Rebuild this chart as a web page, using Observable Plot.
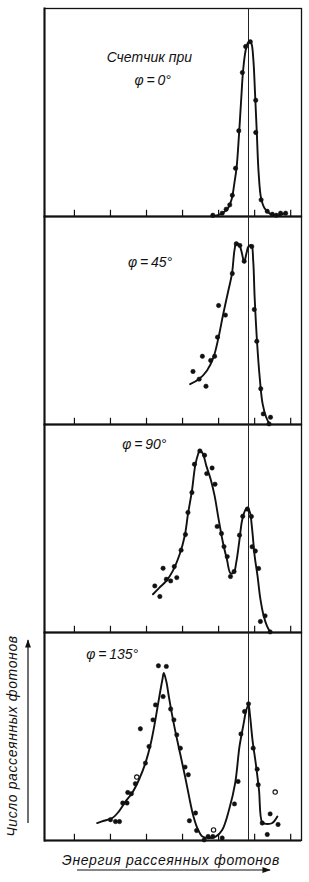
<!DOCTYPE html>
<html><head><meta charset="utf-8">
<script src="https://cdn.jsdelivr.net/npm/d3@7"></script>
<script src="https://cdn.jsdelivr.net/npm/@observablehq/plot@0.6"></script>
<style>
body{margin:0;background:#fff;}
#wrap{position:relative;width:309px;height:882px;font-family:"Liberation Sans",Arial,sans-serif;}
#chart{position:absolute;left:0;top:0;}
#over{position:absolute;left:0;top:0;pointer-events:none;}
</style></head><body>
<div id="wrap"><div id="chart"></div><svg id="over" width="309" height="882"></svg></div>
<script>
// Scattering angle of each panel (degrees)
const panels = ["0", "45", "90", "135"];
const tickValues = [1, 2, 3, 4, 5, 6, 7];
const primaryEnergy = [5.83];

// measured points [energy, count]
const dots0 = [[4.84,0.6],[5.10,1.6],[5.21,3.5],[5.31,5.6],[5.38,10.2],[5.47,23.2],[5.56,41.2],[5.66,69.2],[5.75,81.7],[5.88,84.0],[6.03,55.9],[6.03,40.4],[6.18,8.0],[6.35,2.5],[6.49,1.1],[6.60,0.6],[6.72,1.6],[6.86,1.6]];
const dots45 = [[4.29,25.5],[4.46,21.8],[4.55,32.8],[4.65,18.4],[4.78,30.8],[4.89,32.8],[4.97,42.0],[5.0,57.2],[5.19,52.6],[5.38,72.6],[5.49,86.9],[5.59,86.1],[5.71,78.5],[5.92,85.6],[5.99,55.3],[6.06,40.0],[6.17,17.2],[6.24,5.1],[6.44,3.5],[6.40,0.3]];
const dots90 = [[3.23,22.4],[3.37,17.3],[3.46,30.9],[3.55,25.6],[3.67,24.8],[3.77,31.7],[3.84,26.4],[3.96,39.6],[4.08,47.1],[4.15,57.7],[4.26,67.3],[4.33,80.9],[4.48,87.3],[4.61,85.2],[4.67,76.4],[4.82,79.1],[4.90,71.3],[4.96,51.0],[5.08,47.6],[5.15,41.3],[5.24,36.5],[5.33,26.9],[5.43,29.3],[5.58,46.8],[5.67,55.9],[5.80,59.3],[5.91,55.8],[5.93,41.2],[6.02,39.2],[6.11,30.8],[6.16,5.3],[6.29,8.0],[6.43,0.3]];
const dots135 = [[2.0,10.0],[2.14,9.1],[2.25,9.1],[2.34,18.0],[2.46,18.0],[2.48,23.1],[2.58,22.5],[2.69,27.3],[2.83,53.7],[2.97,37.2],[3.07,45.2],[3.18,58.0],[3.25,65.2],[3.33,84.0],[3.46,69.2],[3.55,83.7],[3.67,63.2],[3.76,58.0],[3.84,50.8],[3.94,44.4],[4.07,35.3],[4.16,31.6],[4.19,9.5],[4.36,13.2],[4.39,4.8],[4.60,0.3],[4.71,1.9],[4.84,1.9],[5.10,1.2],[5.44,17.6],[5.54,28.4],[5.62,51.2],[5.72,62.0],[5.83,65.7],[5.96,44.4],[6.07,34.3],[6.10,26.8],[6.21,8.4],[6.35,2.9],[6.43,12.8],[6.65,7.7]];
const open135 = [[2.73,30.5],[4.86,5.1],[6.57,23.3]];

// smooth curves drawn through the data [energy, count]
const curve0 = [[4.83,0],[5.08,1.4],[5.25,3.8],[5.36,8.2],[5.44,16.3],[5.50,23.6],[5.57,40.4],[5.63,57.2],[5.68,70.2],[5.75,79.8],[5.82,83.7],[5.88,84.1],[5.92,82.7],[5.97,74.0],[6.01,59.6],[6.06,40.4],[6.11,21.2],[6.18,8.7],[6.28,3.8],[6.42,1.4],[6.64,0.5],[6.86,1.9]];
const curve45 = [[4.21,19.4],[4.44,21.6],[4.68,26.0],[4.86,32.4],[5.0,42.0],[5.12,52.4],[5.26,63.6],[5.37,72.4],[5.44,83.7],[5.49,87.2],[5.58,86.1],[5.65,82.1],[5.71,78.0],[5.77,82.1],[5.83,85.6],[5.91,86.2],[5.96,78.8],[6.0,61.2],[6.07,38.8],[6.14,22.7],[6.22,10.0],[6.32,3.5],[6.42,0]];
const curve90 = [[3.18,18.4],[3.36,21.6],[3.55,24.8],[3.73,29.6],[3.92,37.6],[4.06,46.4],[4.15,56.9],[4.26,68.1],[4.35,80.1],[4.43,85.7],[4.48,87.6],[4.57,85.7],[4.66,80.1],[4.78,73.7],[4.89,65.7],[5.0,54.5],[5.12,43.3],[5.23,35.2],[5.33,28.5],[5.42,28.8],[5.49,33.7],[5.57,43.3],[5.65,53.7],[5.73,58.5],[5.80,60.1],[5.87,57.7],[5.93,49.7],[6.0,36.8],[6.08,27.2],[6.16,16.0],[6.25,8.0],[6.34,3.2],[6.44,0]];
const curve135 = [[1.63,8.4],[1.82,9.5],[2.05,10.8],[2.23,13.9],[2.42,18.8],[2.60,22.8],[2.79,29.2],[2.97,37.2],[3.11,46.0],[3.23,56.4],[3.34,67.6],[3.44,77.3],[3.48,80.5],[3.55,76.4],[3.62,69.2],[3.71,60.4],[3.81,51.6],[3.94,41.2],[4.07,30.8],[4.18,21.2],[4.29,12.4],[4.41,6.0],[4.55,1.9],[4.73,1.2],[4.92,1.9],[5.10,5.1],[5.29,14.8],[5.46,27.6],[5.58,45.2],[5.68,54.8],[5.77,62.8],[5.83,65.2],[5.87,60.4],[5.94,48.4],[6.03,37.2],[6.12,24.4],[6.21,8.7],[6.31,8.0],[6.49,8.4],[6.63,11.5]];

const labelText = [["0","Счетчик при",3.08,76.4],["0","φ\u2009=\u20090°",3.17,65.4],["45","φ\u2009=\u200945°",3.1,78.0],["90","φ\u2009=\u200990°",2.94,90.5],["135","φ\u2009=\u2009135°",2.05,89.3]];

const rows = (pairs) => pairs.flatMap(([p, a]) => a.map(([x, y]) => ({panel: p, x, y})));
const curves = rows([["0",curve0],["45",curve45],["90",curve90],["135",curve135]]);
const dots = rows([["0",dots0],["45",dots45],["90",dots90],["135",dots135]]);
const opens = rows([["135",open135]]);
const labels = labelText.map(([panel, text, x, y]) => ({panel, text, x, y}));

const chart = Plot.plot({
  width: 309, height: 846,
  marginLeft: 44, marginRight: 8, marginTop: 6, marginBottom: 5,
  x: {domain: [0.17, 7.3], axis: null},
  y: {domain: [0, 100], axis: null},
  fy: {domain: panels, axis: null, padding: 0},
  style: {background: "white"},
  marks: [
    Plot.frame({stroke: "#111", strokeWidth: 1.3}),
    Plot.frame({anchor: "left", stroke: "#111", strokeWidth: 2}),
    Plot.ruleY([0], {stroke: "#111", strokeWidth: 2}),
    Plot.ruleX(tickValues, {x: d => d, y1: 0, y2: 3, stroke: "#111", strokeWidth: 1.2}),
    Plot.ruleX(primaryEnergy, {x: d => d, stroke: "#222", strokeWidth: 1}),
    Plot.line(curves, {x: "x", y: "y", fy: "panel", z: "panel", curve: "catmull-rom", stroke: "#111", strokeWidth: 1.9}),
    Plot.dot(dots, {x: "x", y: "y", fy: "panel", r: 2.2, fill: "#111", stroke: "#111", strokeWidth: 0.5}),
    Plot.dot(opens, {x: "x", y: "y", fy: "panel", r: 2.2, fill: "white", stroke: "#111", strokeWidth: 1.1}),
    Plot.text(labels, {x: "x", y: "y", fy: "panel", text: "text", fontSize: 14, fontStyle: "italic", fill: "#111", fontFamily: "Liberation Sans, Arial, sans-serif"})
  ]
});
document.getElementById("chart").appendChild(chart);

// axis titles with arrows
const over = d3.select("#over");
over.append("defs").append("marker").attr("id", "ah").attr("viewBox", "0 0 10 10")
  .attr("refX", 9).attr("refY", 5).attr("markerWidth", 7).attr("markerHeight", 7).attr("orient", "auto")
  .append("path").attr("d", "M0,1.5 L10,5 L0,8.5 Z").attr("fill", "#111");
over.append("text").attr("transform", "translate(17,736) rotate(-90)").attr("text-anchor", "middle")
  .attr("font-size", 14).attr("font-style", "italic").attr("letter-spacing", 0.6).attr("fill", "#111")
  .attr("font-family", "Liberation Sans, Arial, sans-serif").text("Число рассеянных фотонов");
over.append("line").attr("x1", 28).attr("x2", 28).attr("y1", 823).attr("y2", 640)
  .attr("stroke", "#111").attr("stroke-width", 1.2).attr("marker-end", "url(#ah)");
over.append("text").attr("x", 171).attr("y", 865).attr("text-anchor", "middle")
  .attr("font-size", 14).attr("font-style", "italic").attr("letter-spacing", 0.6).attr("fill", "#111")
  .attr("font-family", "Liberation Sans, Arial, sans-serif").text("Энергия рассеянных фотонов");
over.append("line").attr("x1", 77).attr("x2", 270).attr("y1", 870).attr("y2", 870)
  .attr("stroke", "#111").attr("stroke-width", 1.2).attr("marker-end", "url(#ah)");
</script>
</body></html>
